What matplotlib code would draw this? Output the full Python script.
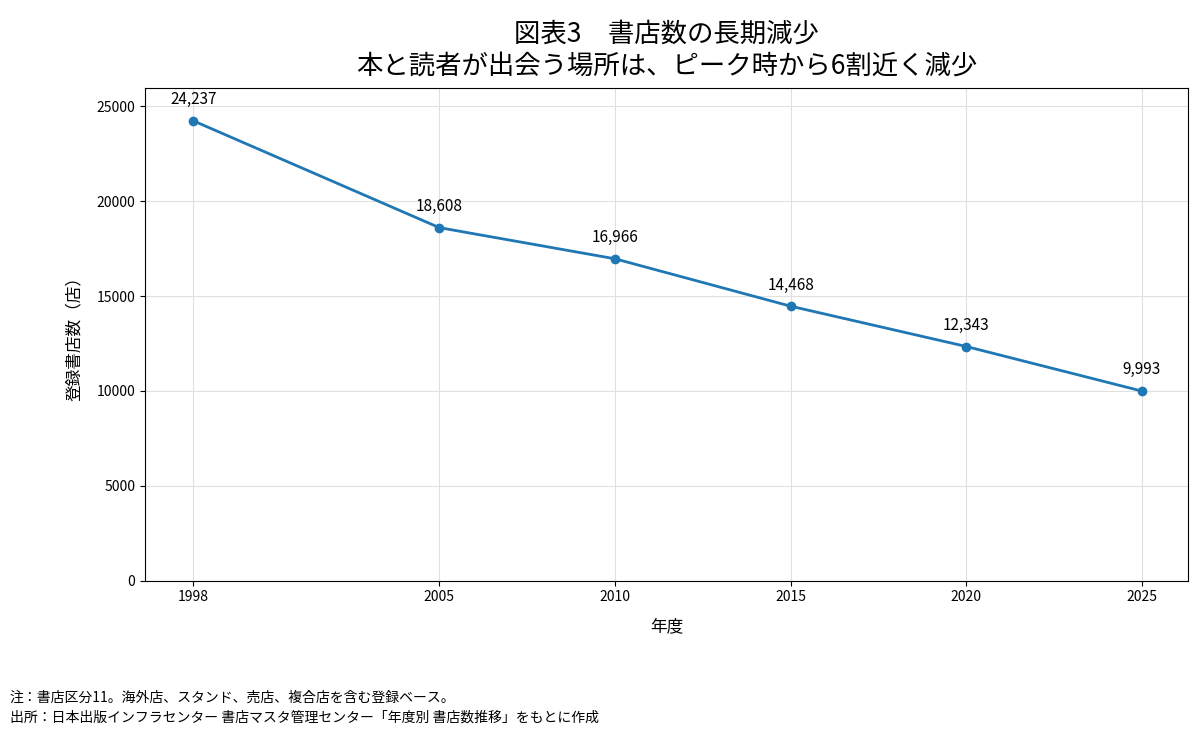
import matplotlib
matplotlib.use("Agg")
import matplotlib.pyplot as plt

years = [1998, 2005, 2010, 2015, 2020, 2025]
stores = [24237, 18608, 16966, 14468, 12343, 9993]
yticks = [0, 5000, 10000, 15000, 20000, 25000]

plt.rcParams['font.family'] = ['Noto Sans CJK JP', 'DejaVu Sans']
fig = plt.figure(figsize=(12, 7.36), dpi=100)
ax = fig.add_axes([0.121, 0.211, 0.869, 0.669])
ax.plot(years, stores, color='#1f77b4', linewidth=2, marker='o', markersize=6)
for x, y in zip(years, stores):
    ax.annotate(f"{y:,}", (x, y), textcoords='offset points', xytext=(0, 12),
                ha='center', fontsize=11)
ax.set_xlim(1996.63, 2026.31)
ax.set_ylim(0, 25950)
ax.set_xticks(years)
ax.set_yticks(yticks)
ax.tick_params(labelsize=10)
ax.grid(True, color='#e0e0e0', linewidth=0.8)
ax.set_axisbelow(True)
ax.set_xlabel('年度', fontsize=12, labelpad=10)
ax.set_ylabel('登録書店数（店）', fontsize=12, labelpad=10)
fig.text(0.5555, 0.972, '図表3　書店数の長期減少\n本と読者が出会う場所は、ピーク時から6割近く減少',
         fontsize=19, ha='center', va='top', linespacing=1.25)
fig.text(0.008, 0.047, '注：書店区分11。海外店、スタンド、売店、複合店を含む登録ベース。', fontsize=10)
fig.text(0.008, 0.020, '出所：日本出版インフラセンター 書店マスタ管理センター「年度別 書店数推移」をもとに作成', fontsize=10)
fig.savefig('out.png', dpi=100)
